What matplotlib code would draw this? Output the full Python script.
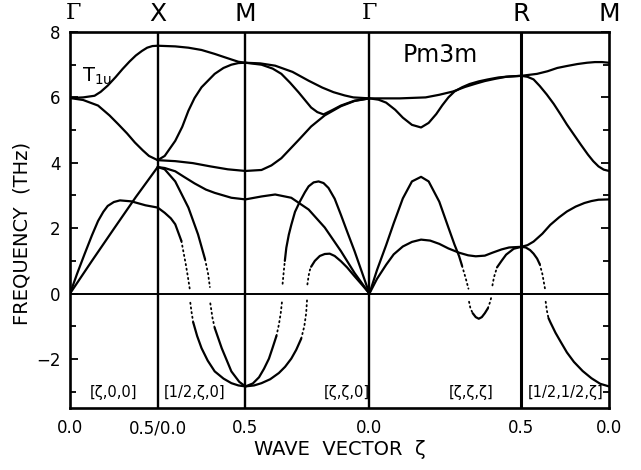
import numpy as np
import matplotlib
matplotlib.use("Agg")
import matplotlib.pyplot as plt
from matplotlib.transforms import blended_transform_factory

plt.rcParams['font.family'] = ['DejaVu Sans']

# ---------------- path description ----------------
seg_len = [0.5, 0.5, 0.7071, 0.8660, 0.5]          # Γ-X, X-M, M-Γ, Γ-R, R-M
top_labels = ['Γ', 'X', 'M', 'Γ', 'R', 'M']
bottom_labels = ['0.0', '0.5/0.0', '0.5', '0.0', '0.5', '0.0']
dir_labels = ['[ζ,0,0]', '[1/2,ζ,0]', '[ζ,ζ,0]', '[ζ,ζ,ζ]', '[1/2,1/2,ζ]']
dir_label_x = [0.248, 0.710, 1.579, 2.286, 2.828]

# ---------------- Γ-X (q = fraction of segment) ----------------
gx1_q = [0, 0.15, 0.28, 0.35, 0.43, 0.52, 0.6, 0.68, 0.75, 0.82, 0.88, 0.94, 1.0]
gx1_w = [5.98, 6.0, 6.05, 6.17, 6.36, 6.62, 6.87, 7.1, 7.28, 7.42, 7.52, 7.57, 7.58]
gx2_q = [0, 0.15, 0.32, 0.45, 0.55, 0.65, 0.74, 0.83, 0.9, 1.0]
gx2_w = [5.98, 5.92, 5.75, 5.45, 5.18, 4.9, 4.62, 4.38, 4.21, 4.08]
gx3_q = [0, 0.25, 0.5, 0.75, 1.0]
gx3_w = [0, 1.0, 1.98, 2.95, 3.87]
gx4_q = [0, 0.08, 0.165, 0.25, 0.32, 0.38, 0.43, 0.5, 0.57, 0.7, 0.86, 1.0]
gx4_w = [0, 0.6, 1.2, 1.78, 2.22, 2.5, 2.68, 2.8, 2.85, 2.82, 2.70, 2.63]

# ---------------- X-M ----------------
xm1_q = [0, 0.2, 0.35, 0.5, 0.65, 0.75, 0.84, 0.92, 1.0]
xm1_w = [7.58, 7.56, 7.52, 7.45, 7.33, 7.24, 7.16, 7.09, 7.06]
xm2_q = [0, 0.08, 0.2, 0.28, 0.35, 0.42, 0.5, 0.65, 0.75, 0.84, 0.92, 1.0]
xm2_w = [4.08, 4.21, 4.67, 5.1, 5.59, 5.98, 6.31, 6.72, 6.9, 7.0, 7.05, 7.06]
xm3_q = [0, 0.2, 0.4, 0.6, 0.8, 1.0]
xm3_w = [4.08, 4.05, 3.99, 3.89, 3.80, 3.75]
xm4_q = [0, 0.08, 0.2, 0.3, 0.42, 0.55, 0.65, 0.84, 1.0]
xm4_w = [3.87, 3.84, 3.74, 3.57, 3.37, 3.18, 3.08, 2.93, 2.88]
xm5a_q = [0, 0.08, 0.2, 0.35, 0.46, 0.54]
xm5a_w = [3.87, 3.80, 3.43, 2.63, 1.81, 1.05]
xm5b_q = [0.54, 0.575, 0.595]
xm5b_w = [1.05, 0.6, 0.2]
xm5c_q = [0.6, 0.625, 0.65]
xm5c_w = [-0.3, -0.75, -1.05]
xm5d_q = [0.65, 0.73, 0.84, 0.93, 1.0]
xm5d_w = [-1.05, -1.67, -2.38, -2.70, -2.84]
xm6a_q = [0, 0.08, 0.15, 0.2, 0.27]
xm6a_w = [2.63, 2.47, 2.3, 2.12, 1.61]
xm6b_q = [0.27, 0.32, 0.345, 0.365]
xm6b_w = [1.61, 0.9, 0.5, 0.15]
xm6c_q = [0.372, 0.385, 0.405]
xm6c_w = [-0.28, -0.55, -0.88]
xm6d_q = [0.405, 0.45, 0.5, 0.57, 0.65, 0.75, 0.84, 0.92, 1.0]
xm6d_w = [-0.88, -1.3, -1.67, -2.05, -2.38, -2.6, -2.74, -2.81, -2.84]

# ---------------- M-Γ ----------------
mg1_q = [0, 0.12, 0.24, 0.38, 0.51, 0.62, 0.71, 0.8, 0.87, 1.0]
mg1_w = [7.06, 7.04, 6.97, 6.78, 6.51, 6.3, 6.16, 6.06, 6.0, 5.97]
mg2_q = [0, 0.13, 0.22, 0.29, 0.36, 0.43, 0.53, 0.58, 0.63, 0.7, 0.77, 0.88, 1.0]
mg2_w = [7.06, 7.0, 6.88, 6.72, 6.45, 6.15, 5.69, 5.55, 5.48, 5.61, 5.75, 5.9, 5.97]
mg3_q = [0, 0.13, 0.21, 0.29, 0.36, 0.43, 0.53, 0.64, 0.77, 0.88, 1.0]
mg3_w = [3.75, 3.78, 3.92, 4.14, 4.42, 4.70, 5.11, 5.45, 5.73, 5.89, 5.97]
mg4_q = [0, 0.13, 0.24, 0.37, 0.51, 0.64, 0.77, 0.88, 1.0]
mg4_w = [2.88, 2.97, 3.03, 2.93, 2.57, 2.02, 1.30, 0.63, 0.0]
mg5a_q = [0, 0.06, 0.11, 0.15, 0.19, 0.22, 0.25]
mg5a_w = [-2.84, -2.75, -2.56, -2.3, -1.99, -1.65, -1.3]
mg5b_q = [0.25, 0.27, 0.285, 0.295]
mg5b_w = [-1.3, -0.95, -0.6, -0.25]
mg5c_q = [0.3, 0.31, 0.318]
mg5c_w = [0.3, 0.7, 1.0]
mg5d_q = [0.318, 0.33, 0.35, 0.37, 0.4, 0.44, 0.48, 0.51, 0.55, 0.59, 0.63, 0.67,
          0.72, 0.77, 0.82, 0.88, 0.94, 1.0]
mg5d_w = [1.0, 1.4, 1.8, 2.1, 2.5, 2.82, 3.1, 3.28, 3.4, 3.43, 3.38, 3.23,
          2.9, 2.41, 1.9, 1.3, 0.65, 0.0]
mg6a_q = [0, 0.07, 0.13, 0.2, 0.27, 0.32, 0.37, 0.41, 0.45]
mg6a_w = [-2.84, -2.81, -2.74, -2.62, -2.43, -2.24, -1.99, -1.72, -1.38]
mg6b_q = [0.45, 0.475, 0.49, 0.497]
mg6b_w = [-1.38, -1.0, -0.6, -0.2]
mg6c_q = [0.5, 0.51, 0.52, 0.53]
mg6c_w = [0.28, 0.55, 0.72, 0.82]
mg6d_q = [0.53, 0.56, 0.6, 0.64, 0.68, 0.72, 0.77, 0.82, 0.88, 0.94, 1.0]
mg6d_w = [0.82, 1.0, 1.15, 1.21, 1.22, 1.15, 0.99, 0.8, 0.53, 0.27, 0.0]

# ---------------- Γ-R ----------------
gr1_q = [0, 0.2, 0.37, 0.46, 0.55, 0.63, 0.7, 0.76, 0.83, 0.9, 1.0]
gr1_w = [5.97, 5.97, 6.0, 6.08, 6.18, 6.32, 6.42, 6.5, 6.57, 6.63, 6.66]
gr2_q = [0, 0.06, 0.11, 0.17, 0.22, 0.28, 0.34, 0.39, 0.44, 0.48, 0.52, 0.56,
         0.61, 0.66, 0.72, 0.78, 0.85, 0.92, 1.0]
gr2_w = [5.97, 5.93, 5.84, 5.62, 5.38, 5.16, 5.08, 5.22, 5.49, 5.76, 6.0, 6.18,
         6.31, 6.41, 6.49, 6.55, 6.61, 6.64, 6.66]
gr3a_q = [0, 0.05, 0.11, 0.16, 0.22, 0.28, 0.34, 0.39, 0.46, 0.52, 0.56, 0.59, 0.61]
gr3a_w = [0, 0.72, 1.48, 2.15, 2.91, 3.43, 3.57, 3.43, 2.81, 2.02, 1.5, 1.15, 0.85]
gr3b_q = [0.61, 0.635, 0.652]
gr3b_w = [0.85, 0.45, 0.15]
gr3c_q = [0.656, 0.665, 0.68]
gr3c_w = [-0.25, -0.45, -0.6]
gr3d_q = [0.68, 0.7, 0.72, 0.74, 0.76, 0.78]
gr3d_w = [-0.6, -0.72, -0.77, -0.72, -0.6, -0.45]
gr3e_q = [0.78, 0.795, 0.803]
gr3e_w = [-0.45, -0.25, -0.1]
gr3f_q = [0.81, 0.82, 0.84]
gr3f_w = [0.25, 0.5, 0.8]
gr3g_q = [0.84, 0.87, 0.9, 0.95, 1.0]
gr3g_w = [0.8, 1.0, 1.19, 1.37, 1.43]
gr4_q = [0, 0.05, 0.11, 0.16, 0.22, 0.28, 0.34, 0.4, 0.46, 0.52, 0.59, 0.65, 0.7,
         0.76, 0.81, 0.87, 0.92, 1.0]
gr4_w = [0, 0.45, 0.88, 1.2, 1.44, 1.58, 1.65, 1.62, 1.52, 1.38, 1.25, 1.17, 1.14,
         1.16, 1.25, 1.35, 1.41, 1.43]

# ---------------- R-M ----------------
rm1_q = [0, 0.18, 0.3, 0.41, 0.52, 0.64, 0.75, 0.84, 0.92, 1.0]
rm1_w = [6.66, 6.72, 6.8, 6.9, 6.96, 7.02, 7.06, 7.08, 7.08, 7.06]
rm2_q = [0, 0.07, 0.14, 0.21, 0.29, 0.37, 0.45, 0.52, 0.6, 0.68, 0.76, 0.82, 0.88, 0.94, 1.0]
rm2_w = [6.66, 6.63, 6.55, 6.35, 6.09, 5.8, 5.47, 5.17, 4.86, 4.55, 4.25, 4.05, 3.89, 3.79, 3.75]
rm3_q = [0, 0.07, 0.14, 0.24, 0.33, 0.43, 0.52, 0.62, 0.72, 0.8, 0.88, 1.0]
rm3_w = [1.43, 1.48, 1.59, 1.83, 2.1, 2.33, 2.51, 2.66, 2.77, 2.83, 2.87, 2.88]
rm4a_q = [0, 0.05, 0.1, 0.14, 0.18, 0.21]
rm4a_w = [1.43, 1.41, 1.33, 1.22, 1.07, 0.9]
rm4b_q = [0.21, 0.24, 0.26, 0.272]
rm4b_w = [0.9, 0.6, 0.3, 0.12]
rm4c_q = [0.278, 0.29, 0.31]
rm4c_w = [-0.25, -0.5, -0.75]
rm4d_q = [0.31, 0.33, 0.39, 0.45, 0.52, 0.6, 0.7, 0.8, 0.9, 1.0]
rm4d_w = [-0.75, -0.87, -1.2, -1.48, -1.8, -2.09, -2.37, -2.59, -2.76, -2.84]

# (segment index, q, w, solid?)
branches = [
    (0, gx1_q, gx1_w, True), (0, gx2_q, gx2_w, True), (0, gx3_q, gx3_w, True), (0, gx4_q, gx4_w, True),
    (1, xm1_q, xm1_w, True), (1, xm2_q, xm2_w, True), (1, xm3_q, xm3_w, True), (1, xm4_q, xm4_w, True),
    (1, xm5a_q, xm5a_w, True), (1, xm5b_q, xm5b_w, False), (1, xm5c_q, xm5c_w, False), (1, xm5d_q, xm5d_w, True),
    (1, xm6a_q, xm6a_w, True), (1, xm6b_q, xm6b_w, False), (1, xm6c_q, xm6c_w, False), (1, xm6d_q, xm6d_w, True),
    (2, mg1_q, mg1_w, True), (2, mg2_q, mg2_w, True), (2, mg3_q, mg3_w, True), (2, mg4_q, mg4_w, True),
    (2, mg5a_q, mg5a_w, True), (2, mg5b_q, mg5b_w, False), (2, mg5c_q, mg5c_w, False), (2, mg5d_q, mg5d_w, True),
    (2, mg6a_q, mg6a_w, True), (2, mg6b_q, mg6b_w, False), (2, mg6c_q, mg6c_w, False), (2, mg6d_q, mg6d_w, True),
    (3, gr1_q, gr1_w, True), (3, gr2_q, gr2_w, True),
    (3, gr3a_q, gr3a_w, True), (3, gr3b_q, gr3b_w, False), (3, gr3c_q, gr3c_w, False), (3, gr3d_q, gr3d_w, True),
    (3, gr3e_q, gr3e_w, False), (3, gr3f_q, gr3f_w, False), (3, gr3g_q, gr3g_w, True),
    (3, gr4_q, gr4_w, True),
    (4, rm1_q, rm1_w, True), (4, rm2_q, rm2_w, True), (4, rm3_q, rm3_w, True),
    (4, rm4a_q, rm4a_w, True), (4, rm4b_q, rm4b_w, False), (4, rm4c_q, rm4c_w, False), (4, rm4d_q, rm4d_w, True),
]

# ---------------- drawing ----------------
seg_start = np.concatenate([[0.0], np.cumsum(seg_len)])
x_max = seg_start[-1]

fig = plt.figure(figsize=(6.41, 4.70), dpi=100)
ax = fig.add_axes([70 / 641, 62 / 470, 539 / 641, 376 / 470])

for seg, q, w, solid in branches:
    x = seg_start[seg] + np.asarray(q) * seg_len[seg]
    if solid:
        ax.plot(x, w, color='black', lw=1.6, solid_capstyle='round', solid_joinstyle='round')
    else:
        ax.plot(x, w, color='black', lw=1.3, linestyle=(0, (0.7, 1.9)), dash_capstyle='round')

for i, xb in enumerate(seg_start[1:-1]):
    ax.axvline(xb, color='black', lw=2.2 if i == 3 else 1.7)
ax.axhline(0, color='black', lw=1.4)

ax.set_xlim(0, x_max)
ax.set_ylim(-3.5, 8)
ax.set_xticks(seg_start)
ax.set_xticklabels(bottom_labels, fontsize=12)
ax.tick_params(axis='x', length=0, pad=8)
ax.set_yticks([-2, 0, 2, 4, 6, 8])
ax.set_yticks([-3, -1, 1, 3, 5, 7], minor=True)
ax.tick_params(axis='y', which='both', direction='in', right=True, labelsize=12, width=1.3)
ax.tick_params(axis='y', which='major', length=6, pad=7)
ax.tick_params(axis='y', which='minor', length=4)
for s in ax.spines.values():
    s.set_linewidth(1.9)

ax.set_xlabel('WAVE  VECTOR  ζ', fontsize=14)
ax.xaxis.set_label_coords(0.5, -0.085)
ax.set_ylabel('FREQUENCY  (THz)', fontsize=14)
ax.yaxis.set_label_coords(-0.072, 0.463)

trans = blended_transform_factory(ax.transData, ax.transAxes)
for i, (xb, lab) in enumerate(zip(seg_start, top_labels)):
    if lab == 'Γ':
        xx = xb + (0.017 if i == 0 else 0.0)
        ax.text(xx, 1.022, lab, transform=trans, ha='center', va='bottom',
                fontsize=16, family='DejaVu Serif')
    else:
        ax.text(xb, 1.016, lab, transform=trans, ha='center', va='bottom', fontsize=18)

for xl, lab in zip(dir_label_x, dir_labels):
    ax.text(xl, -3.02, lab, ha='center', va='center', fontsize=10.5)

ax.text(2.11, 7.08, 'Pm3m', ha='center', va='baseline', fontsize=17)
ax.text(0.067, 6.49, r'$\mathregular{T_{1u}}$', ha='left', va='baseline', fontsize=14)

fig.savefig('out.png', dpi=100)
